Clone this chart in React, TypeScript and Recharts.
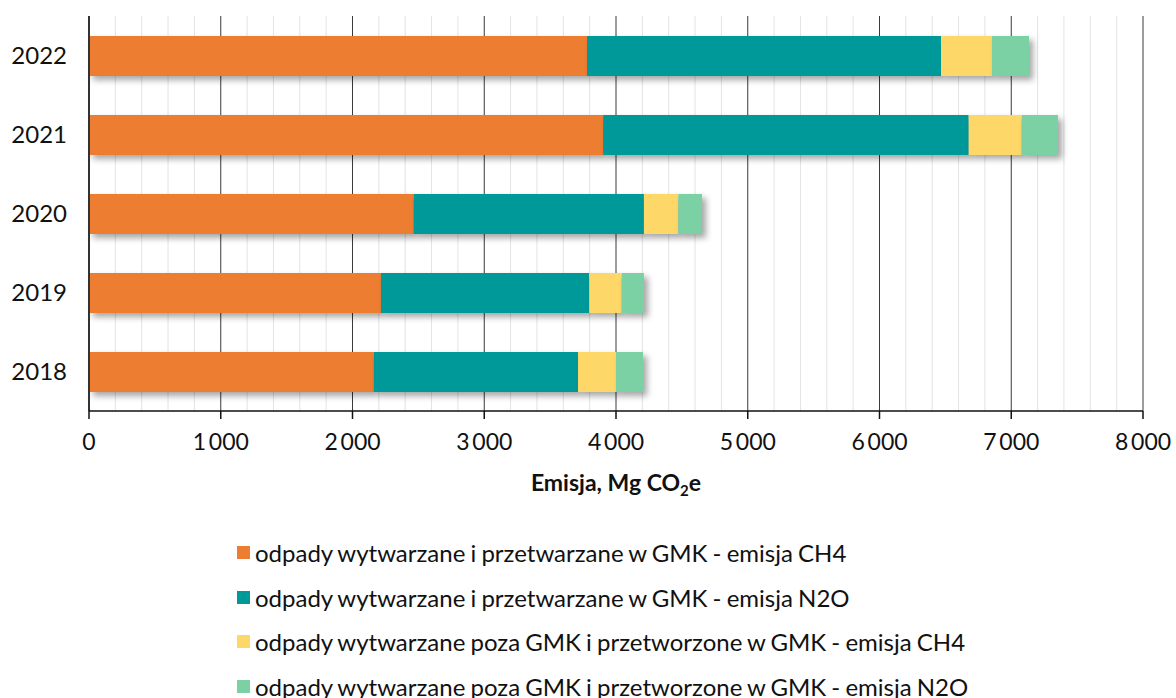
import React from 'react';
import { BarChart, Bar, XAxis, YAxis, CartesianGrid, Label } from 'recharts';

const years = ['2018', '2019', '2020', '2021', '2022'];

// Mg CO2e per year, one array per emission source
const ch4Inside = [2161, 2216, 2463, 3902, 3780];
const n2oInside = [1551, 1581, 1749, 2775, 2687];
const ch4Outside = [288, 246, 261, 402, 387];
const n2oOutside = [205, 169, 180, 276, 281];

const majorTicks = [0, 1000, 2000, 3000, 4000, 5000, 6000, 7000, 8000];
const minorTicks = [
  200, 400, 600, 800, 1200, 1400, 1600, 1800, 2200, 2400, 2600, 2800,
  3200, 3400, 3600, 3800, 4200, 4400, 4600, 4800, 5200, 5400, 5600, 5800,
  6200, 6400, 6600, 6800, 7200, 7400, 7600, 7800,
];

const series = [
  { key: 'ch4Inside', name: 'odpady wytwarzane i przetwarzane w GMK - emisja CH4', color: '#ED7D31', values: ch4Inside },
  { key: 'n2oInside', name: 'odpady wytwarzane i przetwarzane w GMK - emisja N2O', color: '#009999', values: n2oInside },
  { key: 'ch4Outside', name: 'odpady wytwarzane poza GMK i przetworzone w GMK - emisja CH4', color: '#FDD868', values: ch4Outside },
  { key: 'n2oOutside', name: 'odpady wytwarzane poza GMK i przetworzone w GMK - emisja N2O', color: '#7BD1A4', values: n2oOutside },
];

const data = years.map((year, i) => {
  const row: Record<string, string | number> = { year };
  series.forEach((s) => {
    row[s.key] = s.values[i];
  });
  return row;
});

const fmt = (v: number) => String(v).replace(/\B(?=(\d{3})+(?!\d))/g, '\u2009');

const ShadowRect = (props: any) => {
  const { x, y, width, height, fill } = props;
  if (!width || width <= 0) return null;
  return (
    <rect
      x={x}
      y={y}
      width={width}
      height={height}
      fill={fill}
      style={{ filter: 'drop-shadow(4px 4px 3px rgba(0,0,0,0.35))' }}
    />
  );
};

const AxisTitle = (props: any) => {
  const { viewBox } = props;
  const cx = viewBox.x + viewBox.width / 2;
  const cy = viewBox.y + 80;
  return (
    <text x={cx} y={cy} textAnchor="middle" fontSize={23} fontWeight={700} fill="#111">
      Emisja, Mg CO
      <tspan fontSize={15} dy={5}>2</tspan>
      <tspan dy={-5}>e</tspan>
    </text>
  );
};

const minorLines = ({ xAxis, offset }: any) =>
  minorTicks.map((v) =>
    xAxis && typeof xAxis.scale === 'function'
      ? xAxis.scale(v)
      : offset.left + (v / 8000) * offset.width
  );

export default function App() {
  return (
    <div style={{ position: 'relative', width: 1176, height: 698, fontFamily: 'Lato, sans-serif', background: '#fff', overflow: 'hidden' }}>
      <style>{'body{margin:0}'}</style>
      <BarChart
        width={1176}
        height={520}
        data={data}
        layout="vertical"
        margin={{ top: 16, right: 33, bottom: 0, left: 0 }}
        barSize={40}
      >
        <CartesianGrid
          horizontal={false}
          stroke="#e3e3e3"
          verticalCoordinatesGenerator={minorLines}
        />
        <CartesianGrid horizontal={false} stroke="#3a3a3a" />
        <XAxis
          type="number"
          domain={[0, 8000]}
          ticks={majorTicks}
          tickFormatter={fmt}
          height={109}
          tickSize={8}
          tickMargin={15}
          axisLine={{ stroke: '#111', strokeWidth: 1.5 }}
          tickLine={{ stroke: '#111', strokeWidth: 1.5 }}
          tick={{ fontSize: 23, fill: '#111' }}
          interval={0}
        >
          <Label content={<AxisTitle />} />
        </XAxis>
        <YAxis
          type="category"
          dataKey="year"
          reversed
          width={89}
          tickSize={0}
          tickMargin={22}
          tickLine={false}
          axisLine={{ stroke: '#111', strokeWidth: 1.5 }}
          tick={{ fontSize: 24, fill: '#111' }}
        />
        {series.map((s) => (
          <Bar
            key={s.key}
            dataKey={s.key}
            name={s.name}
            stackId="total"
            fill={s.color}
            shape={<ShadowRect />}
            isAnimationActive={false}
          />
        ))}
      </BarChart>
      <div style={{ position: 'absolute', left: 237, top: 530 }}>
        {series.map((s) => (
          <div key={s.key} style={{ display: 'flex', alignItems: 'center', height: 44.7, fontSize: 24, wordSpacing: -1, color: '#111', whiteSpace: 'nowrap' }}>
            <span style={{ display: 'inline-block', width: 13, height: 13, background: s.color, marginRight: 5 }} />
            <span>{s.name}</span>
          </div>
        ))}
      </div>
    </div>
  );
}
